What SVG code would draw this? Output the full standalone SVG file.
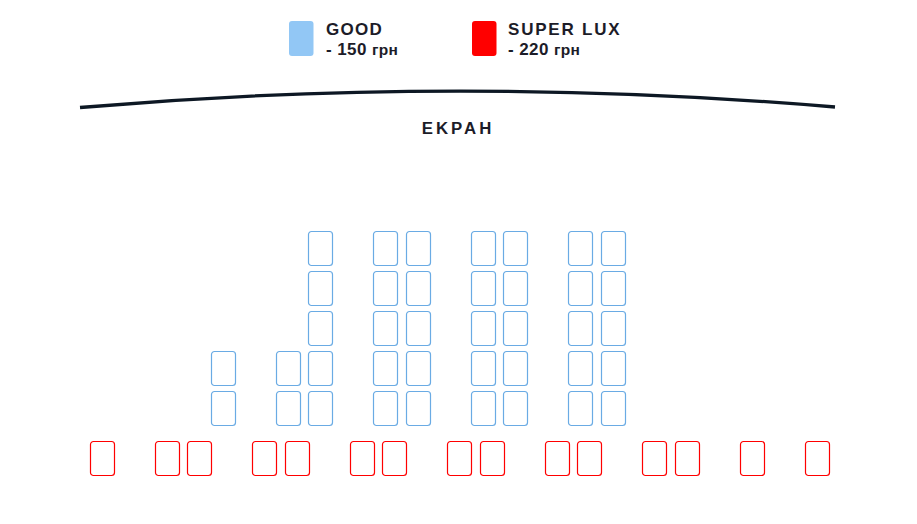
<svg xmlns="http://www.w3.org/2000/svg" width="917" height="524" viewBox="0 0 917 524">
<style>
.t{font-family:"Liberation Sans",Arial,sans-serif;font-weight:bold;fill:#1c1c28}
.g{fill:#fff;stroke:#6aabe4;stroke-width:1.2}
.s{fill:#fff;stroke:#f00;stroke-width:1.2}
</style>
<defs>
<rect id="seat" width="24" height="34" rx="3"/>
</defs>
<rect width="917" height="524" fill="#fff"/>
<g id="legend">
<g id="legend-good">
<rect x="289" y="21" width="24.5" height="35" rx="3" fill="#92c7f5"/>
<text class="t" x="326" y="35" font-size="17" letter-spacing="1.3">GOOD</text>
<text class="t" x="326" y="55" font-size="17" letter-spacing="0.4">- 150 <tspan font-size="15.5">грн</tspan></text>
</g>
<g id="legend-lux">
<rect x="472" y="21" width="24.5" height="35" rx="3" fill="#f00"/>
<text class="t" x="508" y="35" font-size="17" letter-spacing="1.8">SUPER LUX</text>
<text class="t" x="508" y="55" font-size="17" letter-spacing="0.4">- 220 <tspan font-size="15.5">грн</tspan></text>
</g>
</g>
<g id="screen">
<path d="M80,107.5 Q457,75 835,107" fill="none" stroke="#0d1824" stroke-width="3.3"/>
<text class="t" x="458" y="133.5" font-size="16.8" letter-spacing="3" text-anchor="middle">EKPAH</text>
</g>
<g id="good-seats">
<use href="#seat" class="g" x="211.5" y="351.5"/>
<use href="#seat" class="g" x="211.5" y="391.5"/>
<use href="#seat" class="g" x="276.5" y="351.5"/>
<use href="#seat" class="g" x="276.5" y="391.5"/>
<use href="#seat" class="g" x="308.5" y="231.5"/>
<use href="#seat" class="g" x="308.5" y="271.5"/>
<use href="#seat" class="g" x="308.5" y="311.5"/>
<use href="#seat" class="g" x="308.5" y="351.5"/>
<use href="#seat" class="g" x="308.5" y="391.5"/>
<use href="#seat" class="g" x="373.5" y="231.5"/>
<use href="#seat" class="g" x="373.5" y="271.5"/>
<use href="#seat" class="g" x="373.5" y="311.5"/>
<use href="#seat" class="g" x="373.5" y="351.5"/>
<use href="#seat" class="g" x="373.5" y="391.5"/>
<use href="#seat" class="g" x="406.5" y="231.5"/>
<use href="#seat" class="g" x="406.5" y="271.5"/>
<use href="#seat" class="g" x="406.5" y="311.5"/>
<use href="#seat" class="g" x="406.5" y="351.5"/>
<use href="#seat" class="g" x="406.5" y="391.5"/>
<use href="#seat" class="g" x="471.5" y="231.5"/>
<use href="#seat" class="g" x="471.5" y="271.5"/>
<use href="#seat" class="g" x="471.5" y="311.5"/>
<use href="#seat" class="g" x="471.5" y="351.5"/>
<use href="#seat" class="g" x="471.5" y="391.5"/>
<use href="#seat" class="g" x="503.5" y="231.5"/>
<use href="#seat" class="g" x="503.5" y="271.5"/>
<use href="#seat" class="g" x="503.5" y="311.5"/>
<use href="#seat" class="g" x="503.5" y="351.5"/>
<use href="#seat" class="g" x="503.5" y="391.5"/>
<use href="#seat" class="g" x="568.5" y="231.5"/>
<use href="#seat" class="g" x="568.5" y="271.5"/>
<use href="#seat" class="g" x="568.5" y="311.5"/>
<use href="#seat" class="g" x="568.5" y="351.5"/>
<use href="#seat" class="g" x="568.5" y="391.5"/>
<use href="#seat" class="g" x="601.5" y="231.5"/>
<use href="#seat" class="g" x="601.5" y="271.5"/>
<use href="#seat" class="g" x="601.5" y="311.5"/>
<use href="#seat" class="g" x="601.5" y="351.5"/>
<use href="#seat" class="g" x="601.5" y="391.5"/>
</g>
<g id="lux-seats">
<use href="#seat" class="s" x="90.5" y="441.5"/>
<use href="#seat" class="s" x="155.5" y="441.5"/>
<use href="#seat" class="s" x="187.5" y="441.5"/>
<use href="#seat" class="s" x="252.5" y="441.5"/>
<use href="#seat" class="s" x="285.5" y="441.5"/>
<use href="#seat" class="s" x="350.5" y="441.5"/>
<use href="#seat" class="s" x="382.5" y="441.5"/>
<use href="#seat" class="s" x="447.5" y="441.5"/>
<use href="#seat" class="s" x="480.5" y="441.5"/>
<use href="#seat" class="s" x="545.5" y="441.5"/>
<use href="#seat" class="s" x="577.5" y="441.5"/>
<use href="#seat" class="s" x="642.5" y="441.5"/>
<use href="#seat" class="s" x="675.5" y="441.5"/>
<use href="#seat" class="s" x="740.5" y="441.5"/>
<use href="#seat" class="s" x="805.5" y="441.5"/>
</g>
<g id="connectors"/>
</svg>
